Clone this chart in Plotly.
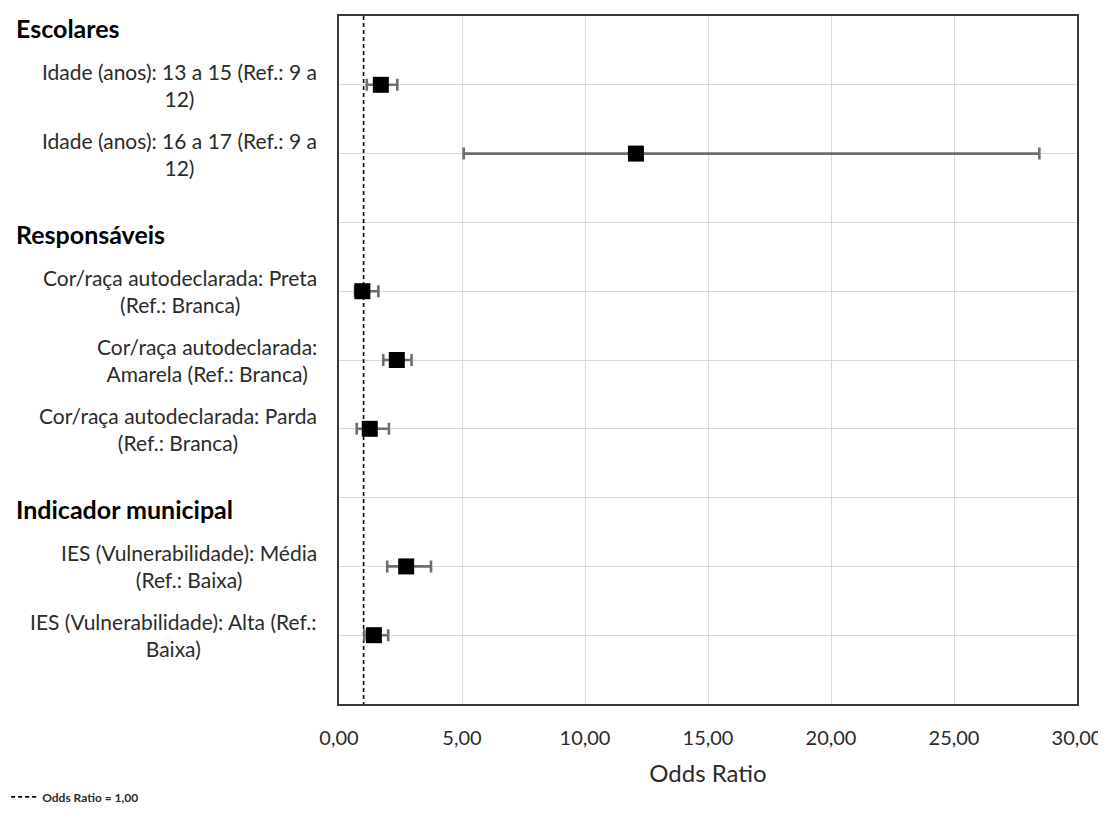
import plotly.graph_objects as go

# ---- data ----
groups = ["Escolares", "Responsáveis", "Indicador municipal"]
labels = [
    "Idade (anos): 13 a 15 (Ref.: 9 a<br>12)",
    "Idade (anos): 16 a 17 (Ref.: 9 a<br>12)",
    "Cor/raça autodeclarada: Preta<br>(Ref.: Branca)",
    "Cor/raça autodeclarada:<br>Amarela (Ref.: Branca)",
    "Cor/raça autodeclarada: Parda<br>(Ref.: Branca)",
    "IES (Vulnerabilidade): Média<br>(Ref.: Baixa)",
    "IES (Vulnerabilidade): Alta (Ref.:<br>Baixa)",
]
group_of = [0, 0, 1, 1, 1, 2, 2]
odds_ratio = [1.70, 12.07, 0.95, 2.35, 1.25, 2.73, 1.42]
ci_lower = [1.13, 5.07, 0.65, 1.80, 0.72, 1.96, 1.03]
ci_upper = [2.37, 28.47, 1.60, 2.95, 2.03, 3.74, 2.00]
reference_or = 1.0
x_ticks = [0, 5, 10, 15, 20, 25, 30]

# ---- row positions (header rows interleaved) ----
rows = []
header_rows = []
pos = 0
for g in range(len(groups)):
    header_rows.append(pos)
    pos += 1
    for i, gi in enumerate(group_of):
        if gi == g:
            rows.append(pos)
            pos += 1
n_rows = pos  # bottom edge

TEXT = "#2b2b2b"
FONT = "Lato"

fig = go.Figure()

fig.add_trace(go.Scatter(
    x=[reference_or, reference_or], y=[0, n_rows], mode="lines",
    line=dict(color="black", width=1.6, dash="4px,3px"),
    name="Odds Ratio = 1,00", showlegend=True, hoverinfo="skip",
))

fig.add_trace(go.Scatter(
    x=odds_ratio, y=rows, mode="markers",
    marker=dict(symbol="square", size=16, color="black"),
    error_x=dict(
        type="data", symmetric=False,
        array=[u - o for u, o in zip(ci_upper, odds_ratio)],
        arrayminus=[o - l for o, l in zip(odds_ratio, ci_lower)],
        color="#6e6e6e", thickness=2.6, width=6,
    ),
    showlegend=False,
))

annotations = []
for lab, r in zip(labels, rows):
    annotations.append(dict(
        text=lab, xref="paper", x=0, xshift=-20, xanchor="right",
        yref="y", y=r, yanchor="middle", align="center", showarrow=False,
        font=dict(family=FONT, size=21, color=TEXT),
    ))
for g, r in zip(groups, header_rows):
    annotations.append(dict(
        text="<b>" + g + "</b>", xref="paper", x=0, xshift=-325, xanchor="left",
        yref="y", y=r + 0.17, yanchor="middle", align="left", showarrow=False,
        font=dict(family=FONT, size=25, color="black"),
    ))

fig.update_layout(
    width=1098, height=824,
    margin=dict(l=331, r=29, t=8, b=128, autoexpand=False),
    paper_bgcolor="white", plot_bgcolor="white",
    separators=",.",
    font=dict(family=FONT, size=20, color=TEXT),
    annotations=annotations,
    showlegend=True,
    legend=dict(
        x=-0.470, xanchor="left", y=-0.135, yanchor="middle",
        font=dict(family=FONT, size=12, color=TEXT, weight="bold"),
        bgcolor="rgba(0,0,0,0)", itemwidth=40,
    ),
    xaxis=dict(
        range=[0, 30], tickvals=x_ticks, tickformat=".2f",
        showgrid=True, gridcolor="#d9d9d9", gridwidth=1,
        showline=True, linecolor="#3a3a3a", linewidth=2, mirror=True,
        ticks="", ticklabelstandoff=15, zeroline=False,
        tickfont=dict(family=FONT, size=20, color=TEXT),
        title=dict(text="Odds Ratio", standoff=17,
                   font=dict(family=FONT, size=24, color=TEXT)),
    ),
    yaxis=dict(
        range=[n_rows, 0], dtick=1, tick0=0,
        showgrid=True, gridcolor="#d9d9d9", gridwidth=1,
        showline=True, linecolor="#3a3a3a", linewidth=2, mirror=True,
        showticklabels=False, ticks="", zeroline=False,
    ),
)

fig.write_html("out.html")
